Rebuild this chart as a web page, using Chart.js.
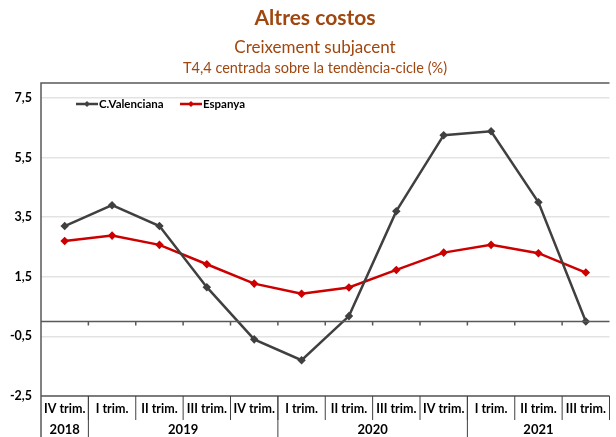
<!DOCTYPE html>
<html>
<head>
<meta charset="utf-8">
<script src="https://cdn.jsdelivr.net/npm/chart.js@4"></script>
<style>
  body { margin: 0; background: #fff; }
  #wrap { position: relative; width: 616px; height: 437px; }
  .t { position: absolute; left: 0; width: 630px; text-align: center; color: #A0460F; font-family: Lato, "Open Sans", sans-serif; }
  #t1 { top: 4px; font-size: 21px; font-weight: bold; }
  #t2 { top: 36px; font-size: 17px; }
  #t3 { top: 59px; font-size: 14.5px; }
</style>
</head>
<body>
<div id="wrap">
  <div class="t" id="t1">Altres costos</div>
  <div class="t" id="t2">Creixement subjacent</div>
  <div class="t" id="t3">T4,4 centrada sobre la tendència-cicle (%)</div>
  <canvas id="chart" width="616" height="437"></canvas>
</div>
<script>
// quarters and their years
const quarters = ['IV trim.', 'I trim.', 'II trim.', 'III trim.', 'IV trim.', 'I trim.', 'II trim.', 'III trim.', 'IV trim.', 'I trim.', 'II trim.', 'III trim.'];
const years = ['2018', '2019', '2020', '2021'];
const yearSpans = [1, 4, 4, 3];

// series (%)
const valenciana = [3.2, 3.9, 3.2, 1.15, -0.6, -1.3, 0.18, 3.7, 6.25, 6.38, 4.0, 0.0];
const espanya = [2.7, 2.88, 2.57, 1.92, 1.27, 0.93, 1.14, 1.73, 2.31, 2.57, 2.29, 1.64];

const yTicks = [-2.5, -0.5, 1.5, 3.5, 5.5, 7.5];

const fontFam = 'Lato, "Open Sans", sans-serif';
const black = '#404040';
const red = '#CC0000';

// zero line, bottom category boxes, years and legend
const extras = {
    id: 'extras',
    afterDraw(chart) {
        const ctx = chart.ctx;
        const a = chart.chartArea;
        const x = chart.scales.x;
        const y = chart.scales.y;
        const w = a.width / quarters.length;
        ctx.save();

        // frame
        ctx.strokeStyle = '#595959';
        ctx.lineWidth = 1.5;
        ctx.beginPath();
        ctx.moveTo(a.left, 437);
        ctx.lineTo(a.left, a.top);
        ctx.lineTo(a.right, a.top);
        ctx.moveTo(a.left, a.bottom);
        ctx.lineTo(a.right, a.bottom);
        ctx.stroke();

        // zero line with ticks
        const y0 = y.getPixelForValue(0);
        ctx.beginPath();
        ctx.moveTo(a.left, y0);
        ctx.lineTo(a.right, y0);
        for (let i = 1; i < quarters.length; i++) {
            const bx = a.left + i * w;
            ctx.moveTo(bx, y0);
            ctx.lineTo(bx, y0 + 4);
        }
        ctx.stroke();

        // quarter separators
        ctx.lineWidth = 1;
        ctx.strokeStyle = '#404040';
        ctx.beginPath();
        for (let i = 1; i <= quarters.length; i++) {
            const bx = a.left + i * w;
            ctx.moveTo(bx, a.bottom);
            ctx.lineTo(bx, a.bottom + 24);
        }
        // year separators
        let k = 0;
        for (let j = 0; j < yearSpans.length - 1; j++) {
            k += yearSpans[j];
            const bx = a.left + k * w;
            ctx.moveTo(bx, a.bottom);
            ctx.lineTo(bx, 437);
        }
        ctx.stroke();

        // labels
        ctx.fillStyle = '#000';
        ctx.textAlign = 'center';
        ctx.textBaseline = 'middle';
        ctx.font = 'bold 12.5px ' + fontFam;
        quarters.forEach((q, i) => {
            ctx.fillText(q, x.getPixelForValue(i), a.bottom + 13);
        });
        ctx.font = 'bold 13px ' + fontFam;
        k = 0;
        years.forEach((yr, j) => {
            const cx = a.left + (k + yearSpans[j] / 2) * w;
            ctx.fillText(yr, cx, a.bottom + 34);
            k += yearSpans[j];
        });

        // legend
        ctx.font = 'bold 11.5px ' + fontFam;
        ctx.textAlign = 'left';
        const items = [[chart.data.datasets[0], 76], [chart.data.datasets[1], 180]];
        items.forEach(([ds, lx]) => {
            const ly = 104;
            ctx.strokeStyle = ds.borderColor;
            ctx.lineWidth = 2.5;
            ctx.beginPath();
            ctx.moveTo(lx, ly);
            ctx.lineTo(lx + 22, ly);
            ctx.stroke();
            ctx.fillStyle = ds.borderColor;
            ctx.beginPath();
            ctx.moveTo(lx + 11, ly - 3);
            ctx.lineTo(lx + 14, ly);
            ctx.lineTo(lx + 11, ly + 3);
            ctx.lineTo(lx + 8, ly);
            ctx.closePath();
            ctx.fill();
            ctx.fillStyle = '#000';
            ctx.fillText(ds.label, lx + 23, ly);
        });
        ctx.restore();
    }
};

new Chart(document.getElementById('chart'), {
    type: 'line',
    data: {
        labels: quarters,
        datasets: [{
            label: 'C.Valenciana',
            data: valenciana,
            borderColor: black,
            backgroundColor: black,
            borderWidth: 2.5,
            pointStyle: 'rectRot',
            pointRadius: 2.5,
            tension: 0
        }, {
            label: 'Espanya',
            data: espanya,
            borderColor: red,
            backgroundColor: red,
            borderWidth: 2.5,
            pointStyle: 'rectRot',
            pointRadius: 2.5,
            tension: 0
        }]
    },
    options: {
        responsive: false,
        animation: false,
        layout: { padding: { top: 83, right: 0, bottom: 0, left: 0 } },
        plugins: {
            legend: { display: false },
            tooltip: { enabled: false }
        },
        scales: {
            x: {
                offset: true,
                grid: { display: false },
                border: { display: false },
                ticks: { display: false },
                afterFit(scale) { scale.height = 41; }
            },
            y: {
                min: -2.5,
                max: 8,
                afterBuildTicks(scale) {
                    scale.ticks = yTicks.map(v => ({ value: v }));
                },
                afterFit(scale) { scale.width = 41; },
                grid: { color: '#E3E3E3', lineWidth: 1.5, drawTicks: false },
                border: { display: false },
                ticks: {
                    padding: 9,
                    color: '#000',
                    font: { family: fontFam, size: 12.5, weight: 'bold' },
                    callback: v => v.toFixed(1).replace('.', ',')
                }
            }
        }
    },
    plugins: [extras]
});
</script>
</body>
</html>
